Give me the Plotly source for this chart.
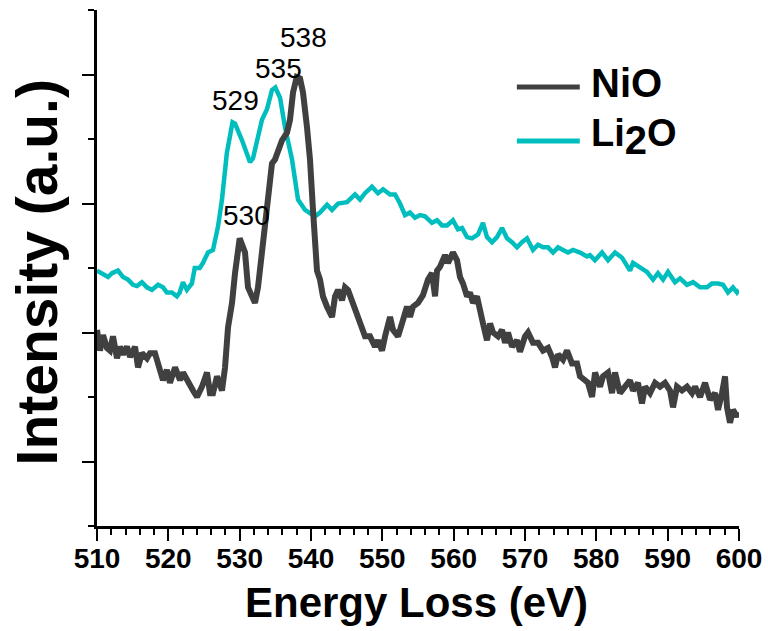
import numpy as np
import plotly.graph_objects as go

# ---- O K-edge EELS spectra -------------------------------------------------
li2o_energy = [
    510.0, 511.54, 512.1, 512.94, 513.65, 514.35, 515.05, 515.6, 516.3, 517.0,
    517.7, 518.55, 519.25, 519.8, 520.5, 521.2, 521.6, 522.05, 522.6, 523.3,
    523.7, 524.4, 524.86, 525.56, 526.26, 526.8, 526.96, 527.52, 528.2, 529.0,
    529.35, 530.33, 531.45, 531.87, 532.57, 533.13, 533.83, 534.53, 535.0, 535.66,
    536.36, 537.34, 538.18, 539.16, 540.56, 541.26, 542.24, 542.95, 543.79, 545.05,
    546.17, 546.87, 547.57, 548.55, 549.39, 550.1, 551.08, 551.78, 552.48, 553.18,
    553.88, 554.58, 555.28, 555.98, 556.96, 557.67, 558.37, 559.07, 559.9, 560.6,
    561.17, 561.87, 562.57, 563.41, 564.11, 564.67, 565.38, 566.08, 566.78, 567.48,
    568.18, 568.88, 569.58, 570.28, 571.12, 571.83, 572.53, 573.23, 573.93, 574.63,
    575.33, 576.03, 576.73, 577.71, 578.69, 579.11, 579.8, 580.8, 581.64, 582.62,
    583.6, 584.02, 584.72, 585.14, 586.12, 587.1, 587.95, 588.65, 589.35, 590.05,
    591.03, 591.73, 592.71, 593.56, 594.54, 595.52, 596.22, 597.06, 597.76, 598.46,
    599.16, 599.72, 600.0,
]
li2o_intensity = [
    1.98, 1.93, 1.96, 1.98, 1.93, 1.91, 1.87, 1.86, 1.89, 1.85,
    1.83, 1.87, 1.85, 1.81, 1.81, 1.78, 1.81, 1.89, 1.83, 1.88,
    2.00, 2.00, 2.04, 2.12, 2.14, 2.27, 2.32, 2.53, 2.89, 3.13,
    3.12, 2.99, 2.82, 2.85, 3.02, 3.15, 3.23, 3.38, 3.40, 3.32,
    3.09, 2.84, 2.53, 2.45, 2.40, 2.43, 2.49, 2.45, 2.50, 2.51,
    2.57, 2.53, 2.58, 2.63, 2.58, 2.61, 2.57, 2.57, 2.50, 2.41,
    2.43, 2.39, 2.41, 2.40, 2.35, 2.37, 2.33, 2.33, 2.37, 2.30,
    2.31, 2.24, 2.23, 2.26, 2.35, 2.24, 2.20, 2.24, 2.31, 2.23,
    2.20, 2.16, 2.20, 2.23, 2.14, 2.18, 2.16, 2.16, 2.12, 2.16,
    2.14, 2.12, 2.14, 2.12, 2.09, 2.10, 2.06, 2.12, 2.06, 2.12,
    2.08, 2.04, 1.98, 2.04, 2.00, 1.97, 1.91, 1.96, 1.91, 1.97,
    1.89, 1.92, 1.87, 1.89, 1.85, 1.85, 1.88, 1.88, 1.87, 1.81,
    1.85, 1.81, 1.83,
]

nio_energy = [
    510.0, 510.42, 510.84, 511.4, 511.82, 512.24, 512.8, 513.22, 513.65, 514.2,
    514.63, 515.33, 515.75, 516.3, 517.0, 517.43, 518.13, 518.83, 519.25, 519.8,
    520.23, 520.94, 521.64, 522.06, 522.76, 523.46, 524.02, 524.72, 525.42, 525.84,
    526.26, 526.82, 527.52, 527.95, 528.37, 528.93, 529.35, 529.77, 530.0, 530.75,
    531.17, 531.73, 532.15, 532.57, 533.13, 533.55, 533.97, 534.53, 534.95, 535.38,
    535.94, 536.64, 537.06, 537.48, 538.0, 538.46, 538.88, 539.44, 539.86, 540.28,
    540.84, 541.26, 541.68, 542.24, 542.95, 543.37, 543.79, 544.35, 544.77, 545.19,
    545.89, 546.45, 547.15, 547.57, 548.27, 548.97, 549.39, 549.96, 550.38, 551.08,
    551.5, 552.2, 552.76, 553.46, 553.88, 554.3, 555.0, 555.7, 556.4, 556.96,
    557.39, 557.67, 558.09, 558.79, 559.21, 559.9, 560.47, 560.89, 561.31, 561.87,
    562.29, 562.71, 563.27, 563.69, 564.11, 564.67, 565.1, 565.52, 566.22, 566.78,
    567.2, 567.62, 568.18, 568.88, 569.3, 570.0, 570.42, 571.12, 571.83, 572.53,
    573.23, 573.79, 574.21, 574.63, 575.33, 575.89, 576.59, 577.29, 577.71, 578.41,
    578.83, 579.4, 579.82, 580.52, 580.94, 581.64, 582.2, 582.62, 583.32, 584.02,
    584.72, 585.14, 585.84, 586.4, 586.83, 587.53, 588.23, 588.93, 589.63, 590.33,
    590.75, 591.31, 592.01, 592.71, 593.41, 593.83, 594.54, 595.24, 595.94, 596.64,
    597.06, 597.62, 598.04, 598.32, 598.74, 599.16, 599.72, 600.0,
]
nio_intensity = [
    1.52, 1.36, 1.48, 1.38, 1.36, 1.47, 1.30, 1.39, 1.33, 1.39,
    1.31, 1.39, 1.23, 1.34, 1.30, 1.34, 1.34, 1.23, 1.13, 1.21,
    1.11, 1.23, 1.13, 1.19, 1.11, 1.05, 1.00, 1.08, 1.19, 1.03,
    1.03, 1.16, 1.05, 1.23, 1.54, 1.73, 1.96, 2.12, 2.23, 2.12,
    1.85, 1.78, 1.73, 1.85, 2.12, 2.32, 2.53, 2.81, 2.84, 2.92,
    2.99, 3.05, 3.15, 3.36, 3.48, 3.47, 3.36, 3.09, 2.84, 2.45,
    1.98, 1.91, 1.78, 1.70, 1.62, 1.78, 1.83, 1.75, 1.85, 1.83,
    1.73, 1.62, 1.52, 1.47, 1.47, 1.39, 1.44, 1.36, 1.47, 1.62,
    1.52, 1.47, 1.57, 1.70, 1.62, 1.70, 1.73, 1.79, 1.91, 1.96,
    1.78, 1.98, 2.01, 2.10, 2.04, 2.12, 2.06, 1.93, 1.88, 1.78,
    1.81, 1.73, 1.78, 1.65, 1.57, 1.44, 1.57, 1.50, 1.47, 1.52,
    1.42, 1.50, 1.39, 1.44, 1.35, 1.47, 1.50, 1.42, 1.42, 1.36,
    1.38, 1.31, 1.23, 1.33, 1.29, 1.36, 1.26, 1.26, 1.16, 1.13,
    1.11, 1.00, 1.19, 1.08, 1.16, 1.19, 1.03, 1.19, 1.03, 1.08,
    1.13, 1.05, 1.11, 0.95, 1.08, 1.03, 1.11, 1.08, 1.11, 1.05,
    0.92, 1.08, 1.05, 1.08, 1.03, 1.08, 1.00, 1.11, 0.98, 1.03,
    0.90, 1.03, 1.16, 0.92, 0.80, 0.90, 0.85, 0.88,
]

# peak labels: (energy, which spectrum, pixel offset of the label centre)
peak_energy = [538, 535, 529, 530]
peak_series = ["NiO", "Li2O", "Li2O", "NiO"]
peak_offset = [(7, 40), (3, 19), (3, 22), (7, 23)]

NIO_COLOR = "#404040"
LI2O_COLOR = "#00BEBE"
FONT = "Arial, 'Liberation Sans', sans-serif"

series = {
    "NiO": (np.array(nio_energy), np.array(nio_intensity)),
    "Li2O": (np.array(li2o_energy), np.array(li2o_intensity)),
}

fig = go.Figure()
fig.add_trace(go.Scatter(x=li2o_energy, y=li2o_intensity, mode="lines", name="Li2O",
                         line=dict(color=LI2O_COLOR, width=4.5), showlegend=False))
fig.add_trace(go.Scatter(x=nio_energy, y=nio_intensity, mode="lines", name="NiO",
                         line=dict(color=NIO_COLOR, width=6), showlegend=False))

annotations = []
for e, s, (dx, dy) in zip(peak_energy, peak_series, peak_offset):
    ex, iy = series[s]
    annotations.append(dict(
        x=e, y=float(np.interp(e, ex, iy)), xref="x", yref="y",
        text=str(e), showarrow=False, xshift=dx, yshift=dy,
        font=dict(family=FONT, size=28, color="black"),
    ))

# axis titles
annotations.append(dict(
    x=0.497, y=-0.149, xref="paper", yref="paper", text="Energy Loss (eV)",
    showarrow=False, xanchor="center", yanchor="middle",
    font=dict(family=FONT, size=42, color="black", weight="bold"),
))
annotations.append(dict(
    x=-0.093, y=0.492, xref="paper", yref="paper", text="Intensity (a.u.)",
    showarrow=False, textangle=-90, xanchor="center", yanchor="middle",
    font=dict(family=FONT, size=57, color="black", weight="bold"),
))

# legend
legend_items = [("NiO", NIO_COLOR, 0.851, "NiO", 40),
                ("Li2O", LI2O_COLOR, 0.746,
                 "Li<sub><span style=\"font-size:40px\">2</span></sub>O", 38)]
shapes = []
for name, color, ly, label, fsize in legend_items:
    shapes.append(dict(type="line", xref="paper", yref="paper",
                       x0=0.654, x1=0.752, y0=ly, y1=ly,
                       line=dict(color=color, width=5)))
    annotations.append(dict(
        x=0.766, y=ly + 0.008, xref="paper", yref="paper", text=label,
        showarrow=False, xanchor="left", yanchor="middle",
        font=dict(family=FONT, size=fsize, color="black", weight="bold"),
    ))

fig.update_layout(
    width=768, height=631,
    margin=dict(l=97, r=29, t=10, b=105),
    paper_bgcolor="white", plot_bgcolor="white",
    annotations=annotations, shapes=shapes,
    showlegend=False,
)
fig.update_xaxes(
    range=[510, 600], showgrid=False, zeroline=False, automargin=False,
    showline=True, linecolor="black", linewidth=2.5,
    ticks="outside", tick0=510, dtick=10, ticklen=12, tickwidth=2, tickcolor="black",
    minor=dict(ticks="outside", tick0=510, dtick=2, ticklen=6, tickwidth=1.5,
               tickcolor="black", showgrid=False),
    tickfont=dict(family=FONT, size=28, color="black", weight="bold"),
    ticklabelstandoff=-6,
)
fig.update_yaxes(
    range=[0, 4], showgrid=False, zeroline=False, automargin=False,
    showline=True, linecolor="black", linewidth=2.5,
    ticks="outside", tick0=0.5, dtick=1, ticklen=12, tickwidth=2, tickcolor="black",
    minor=dict(ticks="outside", tick0=0, dtick=1, ticklen=6, tickwidth=1.5,
               tickcolor="black", showgrid=False),
    showticklabels=False,
)

fig.write_html("out.html")
